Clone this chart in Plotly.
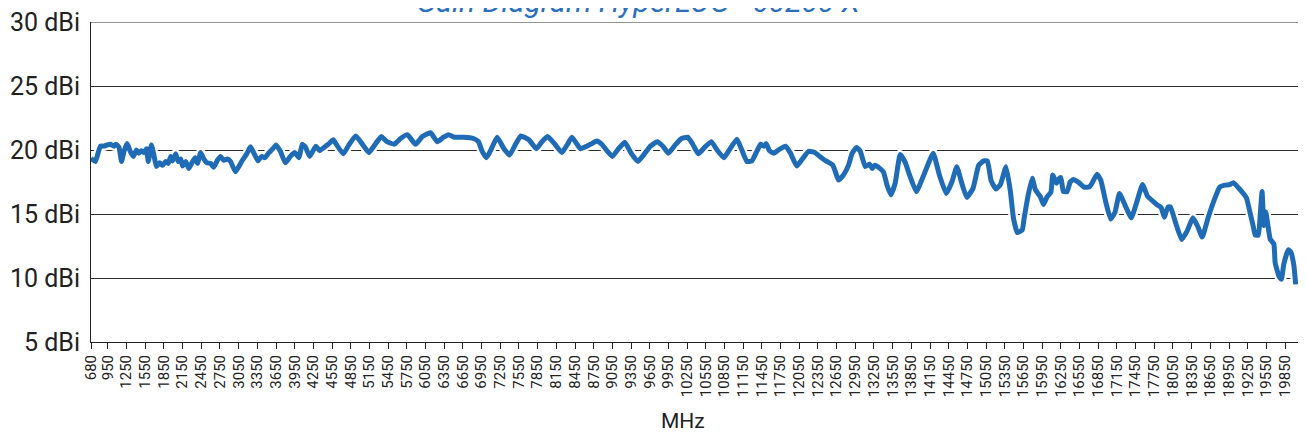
import plotly.graph_objects as go

# Frequency (MHz) and gain (dBi)
freq_mhz = [
    680, 750, 830, 890, 940, 990, 1050, 1080, 1130, 1170,
    1210, 1260, 1310, 1360, 1410, 1450, 1490, 1530, 1570, 1600,
    1650, 1690, 1730, 1780, 1830, 1880, 1920, 1960, 1990, 2040,
    2080, 2120, 2150, 2200, 2250, 2300, 2350, 2390, 2440, 2490,
    2540, 2600, 2650, 2710, 2760, 2810, 2870, 2920, 3000, 3110,
    3180, 3240, 3290, 3360, 3420, 3470, 3530, 3600, 3650, 3720,
    3800, 3880, 3950, 4020, 4070, 4120, 4190, 4240, 4290, 4350,
    4420, 4500, 4570, 4610, 4730, 4820, 4930, 5030, 5140, 5250,
    5340, 5430, 5550, 5650, 5760, 5890, 6000, 6130, 6240, 6340,
    6420, 6510, 6660, 6820, 6900, 6960, 7030, 7100, 7200, 7310,
    7400, 7490, 7580, 7710, 7830, 7920, 8010, 8120, 8240, 8330,
    8400, 8510, 8540, 8640, 8720, 8800, 8880, 8970, 9050, 9140,
    9250, 9350, 9460, 9550, 9660, 9770, 9860, 9950, 10060, 10160,
    10260, 10340, 10430, 10530, 10640, 10730, 10840, 10940, 11050, 11120,
    11210, 11290, 11370, 11430, 11480, 11520, 11570, 11640, 11730, 11830,
    11910, 12010, 12100, 12200, 12300, 12390, 12460, 12590, 12630, 12680,
    12760, 12840, 12900, 12970, 13030, 13110, 13180, 13220, 13260, 13310,
    13400, 13460, 13520, 13590, 13670, 13750, 13810, 13930, 14050, 14200,
    14300, 14410, 14500, 14580, 14660, 14740, 14840, 14930, 15010, 15070,
    15130, 15210, 15280, 15370, 15440, 15490, 15550, 15630, 15660, 15720,
    15790, 15840, 15920, 15970, 16030, 16090, 16120, 16180, 16220, 16250,
    16290, 16350, 16400, 16450, 16540, 16620, 16700, 16750, 16830, 16890,
    16970, 17050, 17120, 17190, 17280, 17380, 17470, 17560, 17640, 17740,
    17800, 17860, 17910, 17970, 18010, 18090, 18190, 18280, 18370, 18450,
    18520, 18610, 18720, 18800, 18880, 18960, 19020, 19100, 19180, 19230,
    19290, 19340, 19370, 19420, 19450, 19480, 19510, 19540, 19570, 19610,
    19670, 19690, 19750, 19790, 19830, 19900, 19940, 19990, 20020,
]
gain_dbi = [
    19.35, 19.1, 20.3, 20.3, 20.4, 20.45, 20.3, 20.45, 20.2, 19.1,
    19.9, 20.5, 19.9, 19.5, 20.0, 19.75, 19.95, 19.8, 20.1, 19.1,
    20.4, 19.6, 18.7, 19.0, 18.8, 19.1, 18.95, 19.5, 19.15, 19.7,
    19.1, 19.3, 18.75, 19.1, 18.55, 19.0, 19.4, 18.95, 19.8, 19.3,
    19.0, 18.95, 18.65, 19.2, 19.5, 19.2, 19.3, 19.1, 18.3, 19.2,
    19.7, 20.25, 19.8, 19.15, 19.5, 19.4, 19.75, 20.1, 20.4, 19.9,
    19.0, 19.5, 19.8, 19.4, 20.45, 20.25, 19.5, 19.9, 20.3, 19.95,
    20.2, 20.5, 20.8, 20.5, 19.7, 20.4, 21.1, 20.5, 19.8, 20.5,
    21.05, 20.65, 20.45, 20.9, 21.2, 20.45, 21.05, 21.35, 20.65, 21.0,
    21.2, 21.0, 21.0, 20.9, 20.65, 19.9, 19.4, 20.0, 21.0, 20.1,
    19.6, 20.4, 21.1, 20.8, 20.1, 20.65, 21.05, 20.5, 19.8, 20.45,
    21.0, 20.25, 20.1, 20.3, 20.5, 20.7, 20.45, 19.9, 19.5, 20.05,
    20.6, 19.75, 19.1, 19.6, 20.3, 20.65, 20.3, 19.75, 20.4, 20.9,
    21.0, 20.45, 19.7, 20.2, 20.65, 20.0, 19.4, 20.1, 20.85, 20.1,
    19.1, 19.15, 19.9, 20.45, 20.3, 20.5, 19.95, 19.75, 20.05, 20.3,
    19.75, 18.75, 19.3, 19.9, 19.8, 19.45, 19.2, 18.8, 18.3, 17.65,
    18.05, 18.8, 19.75, 20.2, 19.9, 18.7, 18.9, 18.55, 18.8, 18.7,
    18.3, 17.25, 16.5, 17.4, 19.65, 19.05, 18.2, 16.75, 18.05, 19.75,
    18.05, 16.6, 17.5, 18.7, 17.4, 16.3, 17.0, 18.8, 19.15, 19.15,
    17.6, 16.95, 17.3, 18.7, 16.75, 14.65, 13.55, 13.75, 14.65, 16.35,
    17.8, 16.9, 16.35, 15.75, 16.35, 16.7, 18.05, 17.4, 17.75, 17.85,
    16.75, 16.75, 17.5, 17.7, 17.45, 17.1, 17.1, 17.4, 18.1, 17.65,
    15.95, 14.6, 15.15, 16.6, 15.7, 14.7, 15.95, 17.3, 16.4, 15.95,
    15.7, 15.5, 14.75, 15.55, 15.55, 14.35, 13.0, 13.7, 14.7, 14.0,
    13.2, 14.65, 16.2, 17.1, 17.25, 17.3, 17.45, 17.05, 16.6, 16.25,
    15.05, 14.0, 13.35, 13.35, 14.9, 16.75, 14.1, 15.15, 14.25, 13.05,
    12.65, 11.2, 10.15, 9.9, 11.1, 12.2, 12.05, 11.0, 9.5,
]

tick_mhz = [680] + list(range(950, 19851, 300))
tick_text = [str(v) for v in tick_mhz]
y_ticks = [5, 10, 15, 20, 25, 30]
y_text = [f"{v} dBi" for v in y_ticks]

BLUE = "#1f6bb5"
INK = "#222222"
GRID = "#2b2b2b"

# the page body adds an 8px margin on every side; keep the page inside the window
W, H = 1290, 422
L, R, T, B = 83, 0, 14, 88
PLOT_H = H - T - B

fig = go.Figure()
# white halo under the line
fig.add_trace(go.Scatter(
    x=freq_mhz, y=gain_dbi, mode="lines",
    line=dict(color="white", width=9.5, shape="spline", smoothing=0.4),
    hoverinfo="skip", showlegend=False,
))
fig.add_trace(go.Scatter(
    x=freq_mhz, y=gain_dbi, mode="lines",
    line=dict(color=BLUE, width=5, shape="spline", smoothing=0.4),
    showlegend=False, name="Gain",
))

# top border line of the plot (the 30 dBi grid line)
fig.add_shape(type="line", xref="paper", yref="y", x0=0, x1=1, y0=30, y1=30,
              line=dict(color=GRID, width=1), layer="below")

# x-axis title placed below the rotated tick labels
fig.add_annotation(
    text="MHz", xref="paper", yref="paper",
    x=(683 - 8 - L) / (W - L - R), y=-(421 - 8 - (T + PLOT_H)) / PLOT_H,
    xanchor="center", yanchor="middle", showarrow=False,
    font=dict(family="Roboto", size=21, color=INK),
)

fig.update_layout(
    width=W, height=H,
    margin=dict(l=L, r=R, t=T, b=B),
    paper_bgcolor="white", plot_bgcolor="white",
    font=dict(family="Roboto", color=INK),
    title=dict(
        text="Gain Diagram HyperLOG - 60200 X",
        x=(638 - 8) / W, xanchor="center",
        yref="container", y=1 - 4 / H, yanchor="bottom",
        font=dict(family="Roboto", size=30, color="#2a6fbd", style="italic"),
    ),
    xaxis=dict(
        range=[680, 20057],
        tickmode="array", tickvals=tick_mhz, ticktext=tick_text,
        tickangle=-90,
        ticks="outside", ticklen=6, tickcolor=INK, tickwidth=1,
        showline=True, linecolor=INK, linewidth=1,
        showgrid=False, zeroline=False, automargin=False,
        ticklabeloverflow="allow",
        tickfont=dict(family="Roboto", size=15, color=INK),
    ),
    yaxis=dict(
        range=[4.9995, 30.0005],
        tickmode="array", tickvals=y_ticks, ticktext=y_text,
        ticks="outside", ticklen=5, tickcolor="rgba(0,0,0,0)",
        showline=True, linecolor=INK, linewidth=1,
        showgrid=True, gridcolor=GRID, gridwidth=1,
        zeroline=False, automargin=False,
        ticklabeloverflow="allow",
        tickfont=dict(family="Roboto", size=25, color=INK),
    ),
)

fig.write_html("out.html")
